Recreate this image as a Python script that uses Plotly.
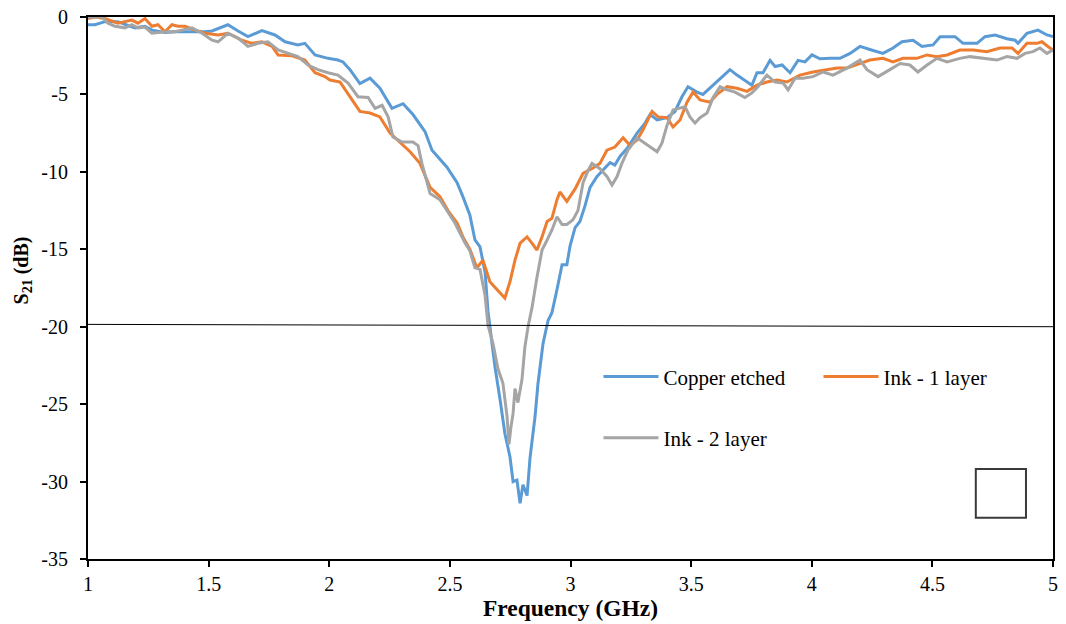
import plotly.graph_objects as go

# ---------------- data ----------------
copper_freq = [1.000,1.029,1.070,1.124,1.166,1.195,1.236,1.265,1.319,1.361,
               1.423,1.485,1.514,1.547,1.580,1.622,1.663,1.721,1.775,1.817,
               1.870,1.899,1.941,1.995,2.036,2.057,2.086,2.127,2.169,2.210,
               2.260,2.306,2.347,2.397,2.426,2.488,2.530,2.554,2.583,2.604,
               2.625,2.646,2.658,2.670,2.687,2.708,2.728,2.749,2.762,2.778,
               2.791,2.803,2.820,2.832,2.840,2.853,2.865,2.886,2.907,2.923,
               2.944,2.965,2.985,2.998,3.019,3.039,3.060,3.081,3.110,3.135,
               3.164,3.184,3.205,3.234,3.276,3.309,3.330,3.359,3.400,3.433,
               3.462,3.487,3.524,3.549,3.591,3.632,3.661,3.690,3.732,3.752,
               3.773,3.798,3.827,3.848,3.877,3.910,3.943,3.972,4.001,4.034,
               4.076,4.117,4.159,4.200,4.241,4.295,4.337,4.374,4.420,4.457,
               4.503,4.532,4.594,4.627,4.685,4.718,4.760,4.809,4.843,4.855,
               4.892,4.938,4.975,5.000]
copper_s21 = [-0.5,-0.5,-0.3,-0.3,-0.55,-0.7,-0.6,-0.85,-1.0,-0.95,
              -0.95,-0.95,-0.9,-0.7,-0.5,-0.9,-1.27,-0.88,-1.16,-1.6,
              -1.8,-1.7,-2.45,-2.67,-2.78,-2.9,-3.4,-4.3,-3.95,-4.6,
              -5.9,-5.6,-6.3,-7.4,-8.6,-9.7,-10.7,-11.6,-12.8,-14.4,
              -14.85,-16.5,-19.0,-20.5,-22.6,-24.7,-26.9,-28.4,-30.0,-29.9,
              -31.4,-30.2,-30.9,-28.5,-27.5,-25.8,-23.7,-21.1,-19.6,-19.1,
              -17.6,-16.0,-16.0,-14.8,-13.6,-13.2,-12.2,-11.0,-10.3,-9.9,
              -9.4,-9.56,-9.0,-8.5,-7.5,-6.85,-6.3,-6.65,-6.5,-6.1,
              -5.15,-4.5,-4.85,-5.0,-4.4,-3.85,-3.4,-3.75,-4.2,-4.4,
              -3.6,-3.6,-2.8,-3.2,-3.1,-3.6,-2.8,-2.9,-2.45,-2.7,
              -2.67,-2.67,-2.35,-1.9,-2.1,-2.35,-2.0,-1.6,-1.5,-1.9,
              -1.8,-1.27,-1.27,-1.7,-1.7,-1.27,-1.16,-1.4,-1.5,-1.7,
              -1.05,-0.85,-1.16,-1.27]

ink1_freq = [1.000,1.029,1.070,1.124,1.153,1.182,1.207,1.236,1.265,1.290,
             1.319,1.348,1.373,1.402,1.444,1.485,1.539,1.580,1.638,1.680,
             1.721,1.763,1.788,1.846,1.899,1.941,1.982,2.003,2.045,2.086,
             2.127,2.169,2.210,2.252,2.293,2.335,2.376,2.418,2.459,2.492,
             2.530,2.554,2.583,2.612,2.637,2.666,2.695,2.728,2.749,2.770,
             2.791,2.820,2.840,2.861,2.882,2.903,2.923,2.944,2.956,2.985,
             3.019,3.052,3.093,3.122,3.151,3.184,3.218,3.247,3.276,3.300,
             3.338,3.363,3.400,3.425,3.454,3.483,3.508,3.537,3.578,3.607,
             3.649,3.690,3.732,3.773,3.814,3.856,3.897,3.951,4.005,4.063,
             4.105,4.146,4.200,4.241,4.295,4.337,4.378,4.436,4.478,4.519,
             4.561,4.614,4.668,4.726,4.780,4.830,4.855,4.892,4.934,4.954,
             4.979,5.000]
ink1_s21 = [-0.1,0.0,-0.1,-0.4,-0.3,-0.2,-0.4,-0.1,-0.6,-0.5,
            -0.95,-0.5,-0.6,-0.6,-0.85,-1.05,-1.16,-1.05,-1.5,-1.7,
            -1.6,-1.9,-2.45,-2.5,-2.78,-3.6,-3.85,-4.07,-4.2,-5.15,
            -6.1,-6.2,-6.45,-7.5,-8.07,-8.7,-9.45,-11.0,-11.6,-12.5,
            -13.3,-14.2,-15.0,-16.2,-15.7,-17.1,-17.6,-18.15,-17.1,-15.7,
            -14.6,-14.2,-14.6,-15.05,-14.2,-13.2,-13.0,-11.8,-11.3,-11.9,
            -11.1,-10.1,-9.75,-9.45,-8.6,-8.4,-7.8,-8.3,-7.95,-7.3,
            -6.1,-6.45,-6.5,-7.1,-6.65,-5.5,-4.85,-5.36,-5.5,-5.0,
            -4.5,-4.6,-4.8,-4.4,-4.2,-4.07,-4.2,-3.75,-3.55,-3.4,
            -3.3,-3.3,-3.0,-2.78,-2.67,-2.9,-2.67,-2.67,-2.45,-2.56,
            -2.45,-2.13,-2.13,-2.24,-2.0,-2.0,-2.35,-1.7,-1.7,-1.6,
            -1.9,-2.13]

ink2_freq = [1.000,1.058,1.083,1.112,1.153,1.182,1.207,1.236,1.265,1.319,
             1.361,1.402,1.431,1.473,1.514,1.539,1.580,1.622,1.663,1.705,
             1.746,1.788,1.829,1.870,1.912,1.953,1.995,2.036,2.078,2.119,
             2.161,2.190,2.219,2.244,2.264,2.302,2.347,2.368,2.384,2.418,
             2.459,2.488,2.521,2.542,2.563,2.583,2.604,2.625,2.646,2.658,
             2.679,2.699,2.720,2.737,2.745,2.753,2.762,2.770,2.782,2.799,
             2.811,2.824,2.840,2.861,2.882,2.903,2.923,2.944,2.965,2.985,
             3.010,3.031,3.052,3.073,3.089,3.122,3.151,3.172,3.193,3.213,
             3.238,3.276,3.300,3.330,3.359,3.379,3.400,3.425,3.454,3.475,
             3.495,3.516,3.537,3.566,3.591,3.620,3.649,3.682,3.723,3.752,
             3.777,3.814,3.848,3.881,3.902,3.931,3.964,4.005,4.047,4.088,
             4.146,4.200,4.229,4.275,4.324,4.366,4.407,4.440,4.478,4.519,
             4.561,4.614,4.656,4.710,4.768,4.809,4.851,4.884,4.917,4.946,
             4.975,5.000]
ink2_s21 = [0.0,0.0,-0.4,-0.6,-0.7,-0.5,-0.7,-0.65,-1.05,-0.95,
            -0.95,-0.8,-0.7,-1.05,-1.5,-1.6,-1.05,-1.36,-1.9,-1.7,
            -1.6,-2.13,-2.35,-2.56,-3.1,-3.4,-3.6,-3.75,-4.27,-5.15,
            -5.2,-5.9,-5.7,-6.45,-7.75,-8.07,-8.07,-8.3,-9.45,-11.4,
            -11.8,-12.5,-13.3,-13.95,-14.6,-15.1,-16.2,-16.3,-18.0,-19.9,
            -21.1,-22.7,-23.65,-25.8,-27.6,-26.5,-25.6,-24.0,-24.9,-23.4,
            -21.3,-20.0,-18.8,-16.8,-15.05,-14.4,-13.75,-12.9,-13.4,-13.4,
            -13.1,-12.5,-10.7,-9.9,-9.45,-9.8,-10.3,-10.85,-10.3,-9.45,
            -8.6,-7.8,-8.07,-8.4,-8.7,-8.15,-7.0,-6.0,-5.9,-5.8,
            -6.45,-6.85,-6.5,-6.2,-5.2,-4.5,-4.7,-4.85,-5.2,-4.9,
            -4.5,-3.75,-4.2,-4.27,-4.7,-3.95,-3.95,-3.85,-3.55,-3.75,
            -3.3,-2.78,-3.4,-3.85,-3.4,-3.0,-3.1,-3.55,-3.1,-2.67,
            -2.9,-2.67,-2.56,-2.67,-2.78,-2.56,-2.67,-2.35,-2.24,-2.0,
            -2.35,-2.13]

series_names = ["Copper etched", "Ink - 1 layer", "Ink - 2 layer"]
series_colors = ["#5B9BD5", "#ED7D31", "#A5A5A5"]

ref_line_freq = [1.0, 5.0]
ref_line_db = [-19.85, -20.0]

x_tick_vals = [1, 1.5, 2, 2.5, 3, 3.5, 4, 4.5, 5]
x_tick_text = ["1", "1.5", "2", "2.5", "3", "3.5", "4", "4.5", "5"]
y_tick_vals = [0, -5, -10, -15, -20, -25, -30, -35]
y_tick_text = ["0", "-5", "-10", "-15", "-20", "-25", "-30", "-35"]

FONT = "Liberation Serif, Times New Roman, serif"

# ---------------- figure ----------------
fig = go.Figure()

fig.add_trace(go.Scatter(x=copper_freq, y=copper_s21, mode="lines", name=series_names[0],
                         line=dict(color=series_colors[0], width=3), legend="legend"))
fig.add_trace(go.Scatter(x=ink1_freq, y=ink1_s21, mode="lines", name=series_names[1],
                         line=dict(color=series_colors[1], width=3), legend="legend"))
fig.add_trace(go.Scatter(x=ink2_freq, y=ink2_s21, mode="lines", name=series_names[2],
                         line=dict(color=series_colors[2], width=3), legend="legend2"))

# -20 dB reference line
fig.add_shape(type="line", xref="x", yref="y",
              x0=ref_line_freq[0], y0=ref_line_db[0], x1=ref_line_freq[1], y1=ref_line_db[1],
              line=dict(color="black", width=1))

# small empty square in the lower right
fig.add_shape(type="rect", xref="paper", yref="paper",
              x0=0.920, y0=0.076, x1=0.972, y1=0.166,
              line=dict(color="#3a3a3a", width=2), fillcolor="rgba(0,0,0,0)")

# y-axis title (rotated annotation)
fig.add_annotation(text="<b>S<sub>21</sub> (dB)</b>", xref="paper", yref="paper",
                   x=-0.068, y=0.533, textangle=-90, showarrow=False,
                   font=dict(family=FONT, size=20, color="black"),
                   xanchor="center", yanchor="middle")

legend_common = dict(orientation="h", xanchor="left", yanchor="middle",
                     font=dict(family=FONT, size=21, color="black"),
                     bgcolor="rgba(0,0,0,0)", itemwidth=55, entrywidth=150,
                     itemclick=False, itemdoubleclick=False)

fig.update_layout(
    width=1066, height=624,
    margin=dict(l=88, r=13, t=17, b=65, autoexpand=False),
    paper_bgcolor="white", plot_bgcolor="white",
    font=dict(family=FONT, color="black"),
    legend=dict(x=0.529, y=0.336, **legend_common),
    legend2=dict(x=0.529, y=0.223, **legend_common),
    xaxis=dict(range=[1, 5], tickvals=x_tick_vals, ticktext=x_tick_text,
               showgrid=False, zeroline=False, showline=True, linecolor="black",
               linewidth=2, mirror=True, ticks="outside", ticklen=6, tickwidth=1.5,
               tickcolor="black", tickfont=dict(family=FONT, size=20, color="black"),
               automargin=False,
               title=dict(text="<b>Frequency (GHz)</b>", standoff=4,
                          font=dict(family=FONT, size=23.5, color="black"))),
    yaxis=dict(range=[-35, 0], tickvals=y_tick_vals, ticktext=y_tick_text,
               showgrid=False, zeroline=False, showline=True, linecolor="black",
               linewidth=2, mirror=True, ticks="outside", ticklen=6, tickwidth=1.5,
               tickcolor="black", ticklabelstandoff=8, automargin=False,
               tickfont=dict(family=FONT, size=20, color="black")),
)

fig.write_html("out.html",
               config={"displayModeBar": False},
               post_script="document.body.style.margin='0';document.body.style.overflow='hidden';")
